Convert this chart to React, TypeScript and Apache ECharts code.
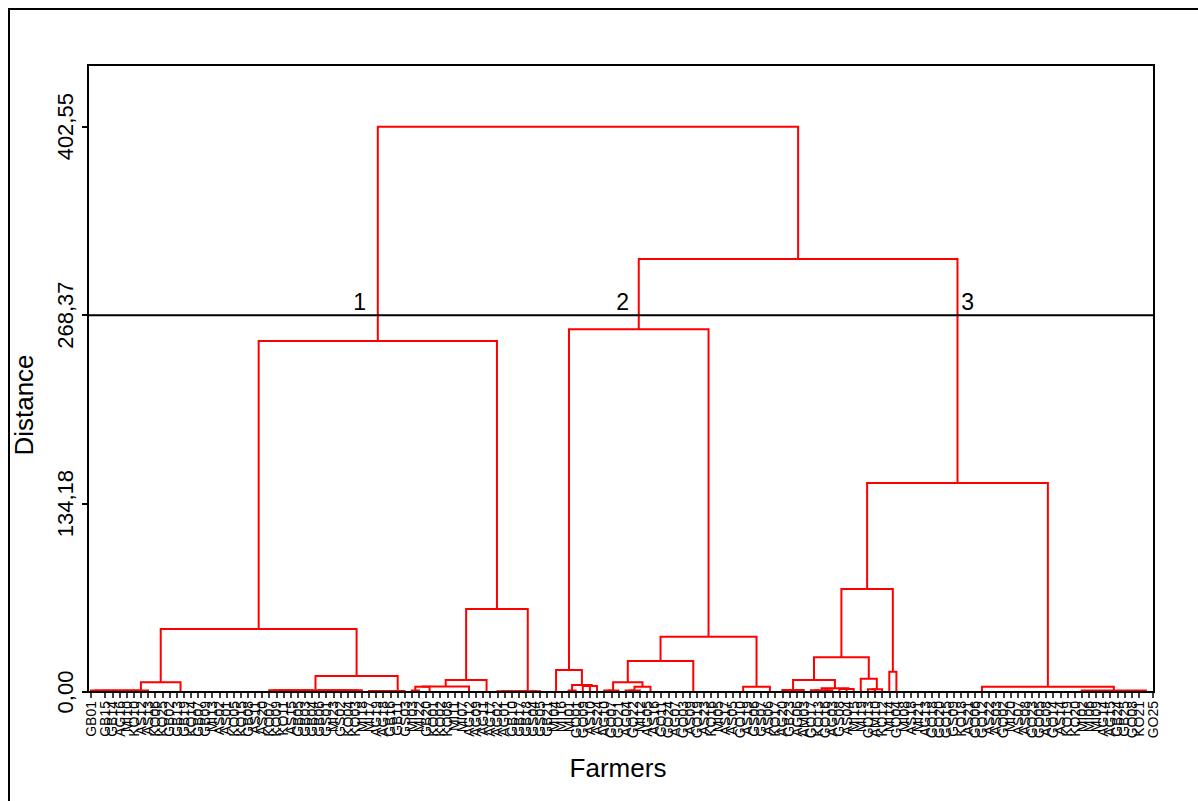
import React, { useEffect, useRef } from "react";
import * as echarts from "echarts";

// ---------- data ----------
const leafLabels: string[] = [
  "GB01","GB22","GB15","GB14","AG16","MI10","KO10","AS12","AS13","KO06",
  "KO25","GB02","GB13","GB19","KO14","GB07","GB09","MI13","AS02","AS01",
  "KO05","KO15","GB08","AS11","AS20","KO07","KO09","KO11","AS15","GB05",
  "GB03","GB04","GB06","GS01","MI23","GS02","KO04","KO03","MI18","MI17",
  "AG19","AG18","GB16","GB11","GS03","MI03","MI22","GB20","KO01","KO02",
  "KO08","MI11","MI07","AG12","AG09","AG11","AG17","AG02","AG01","GB10",
  "GB17","GB18","GS04","GS05","GB21","MI04","MI16","MI01","GO01","GO09",
  "AS10","AS24","AG10","GO07","GO21","AG04","GO22","MI12","AG05","AS16",
  "GO11","GO24","AG07","GO03","AS09","GO19","AS23","KO16","MI05","AS17",
  "AS05","GO10","AS19","GS06","GS07","AS06","KO17","AG20","GB23","AG06",
  "AM03","GO17","KO13","GO16","AG03","GS08","AS04","MI15","MI19","GO13",
  "AM10","KO12","MI14","GO04","MI08","AS18","MI21","AG13","GO18","GO20",
  "GO15","GS09","KO18","AS21","GO06","GO12","AS22","AS03","GO02","MI20",
  "AS07","AS08","GO23","GO05","AG08","GO14","AS14","KO19","KO20","MI02",
  "MI06","MI09","AG14","AG15","GB24","GB25","GO08","KO21","GS10","GO25",
];

// flat groups of consecutive leaves: [id, firstLeaf, lastLeaf, pivotLeaf, height]
const leafGroups: [string, number, number, number, number][] = [
  ["a1a", 0, 8, 7, 1.0],
  ["a1b", 9, 24, 12, 0],
  ["a2a", 25, 38, 31, 1.2],
  ["a2b", 39, 44, 43, 0.8],
  ["c1", 45, 46, 45, 1.0],
  ["c2", 47, 48, 47, 0],
  ["c3", 49, 54, 53, 0],
  ["a3b", 55, 56, 55, 0],
  ["a4", 57, 63, 61, 0.6],
  ["b1a", 64, 66, 65, 0],
  ["b1b1", 67, 68, 67, 1.0],
  ["b1b2", 69, 71, 70, 4.3],
  ["b2a1x", 72, 74, 73, 1.0],
  ["b2a1y1", 75, 77, 76, 1.0],
  ["b2a1y2", 78, 79, 78, 0],
  ["b2a2", 80, 89, 84, 0],
  ["b2b1", 90, 93, 91, 0],
  ["b2b2", 94, 96, 95, 0],
  ["d1a1", 97, 100, 98, 1.4],
  ["d1a2a", 101, 104, 102, 1.2],
  ["d1a2b", 105, 107, 106, 2.2],
  ["d1b1", 108, 108, 108, 0],
  ["d1b2", 109, 111, 110, 2.0],
  ["d2a", 112, 112, 112, 0],
  ["d2b", 113, 113, 113, 0],
  ["e1", 114, 126, 125, 0],
  ["e2a", 127, 140, 139, 0],
  ["e2b", 141, 149, 148, 0],
];

// merges between nodes: [id, left, right, height]
const links: [string, string, string, number][] = [
  ["a1", "a1a", "a1b", 6.9],
  ["a2", "a2a", "a2b", 11.4],
  ["c1l", "a1", "a2", 44.9],
  ["p", "c1", "c2", 3.7],
  ["q", "p", "c3", 3.9],
  ["a3", "q", "a3b", 8.5],
  ["c1r", "a3", "a4", 59.1],
  ["cl1", "c1l", "c1r", 250.0],
  ["b1b", "b1b1", "b1b2", 5.0],
  ["b1", "b1a", "b1b", 15.7],
  ["b2a1y", "b2a1y1", "b2a1y2", 3.8],
  ["b2a1", "b2a1x", "b2a1y", 7.0],
  ["b2a", "b2a1", "b2a2", 22.1],
  ["b2b", "b2b1", "b2b2", 3.8],
  ["b2", "b2a", "b2b", 39.4],
  ["cl2", "b1", "b2", 258.4],
  ["d1a2", "d1a2a", "d1a2b", 2.6],
  ["d1a", "d1a1", "d1a2", 8.5],
  ["d1b", "d1b1", "d1b2", 9.5],
  ["d1", "d1a", "d1b", 24.7],
  ["d2", "d2a", "d2b", 14.5],
  ["c3l", "d1", "d2", 73.3],
  ["e2", "e2a", "e2b", 1.0],
  ["c3r", "e1", "e2", 3.8],
  ["cl3", "c3l", "c3r", 148.8],
  ["cr", "cl2", "cl3", 308.3],
  ["root", "cl1", "cr", 402.55],
];

const yTickStep = 134.1833;
const yMax = 446.5;
const xMin = -0.42;
const xMax = 149.14;
const cutHeight = 268.37;
const clusterNames = ["1", "2", "3"];
const clusterLabelLeaf = [37.7, 74.6, 123.0];

// ---------- build dendrogram segments ----------
type Node = { x: number; h: number };
type Seg = [number, number, number, number, number];

function buildSegments(): Seg[] {
  const segs: Seg[] = [];
  const nodes: Record<string, Node> = {};
  const merge = (a: Node, b: Node, h: number): Node => {
    segs.push([a.x, a.h, b.x, b.h, h]);
    return { x: (a.x + b.x) / 2, h };
  };
  const leaf = (i: number): Node => ({ x: i, h: 0 });
  for (const [id, first, last, pivot, h] of leafGroups) {
    if (first === last) {
      nodes[id] = leaf(first);
      continue;
    }
    let left = leaf(first);
    for (let i = first + 1; i <= pivot; i++) left = merge(left, leaf(i), h);
    if (pivot < last) {
      let right = leaf(last);
      for (let i = last - 1; i > pivot; i--) right = merge(leaf(i), right, h);
      left = merge(left, right, h);
    }
    nodes[id] = left;
  }
  for (const [id, l, r, h] of links) {
    nodes[id] = merge(nodes[l], nodes[r], h);
  }
  return segs;
}

const FONT = '"Liberation Sans", Arial, Helvetica, sans-serif';

export default function App() {
  const ref = useRef<HTMLDivElement>(null);
  useEffect(() => {
    if (!ref.current) return;
    const chart = echarts.init(ref.current, undefined, { renderer: "svg" });
    const segs = buildSegments();
    const leafIdx = leafLabels.map((_, i) => i);
    const option: any = {
      animation: false,
      backgroundColor: "#ffffff",
      textStyle: { fontFamily: FONT },
      grid: {
        left: 88,
        right: 44,
        top: 65,
        bottom: 109,
        show: true,
        borderColor: "#000",
        borderWidth: 2,
        backgroundColor: "transparent",
      },
      xAxis: {
        type: "value",
        min: xMin,
        max: xMax,
        z: 5,
        axisLine: { show: true, onZero: false, lineStyle: { color: "#000", width: 2 } },
        axisTick: {
          show: true,
          length: 6,
          customValues: leafIdx,
          lineStyle: { color: "#000", width: 1.5 },
        },
        axisLabel: {
          rotate: 90,
          fontSize: 14,
          color: "#000",
          margin: 9,
          fontFamily: FONT,
          showMinLabel: true,
          showMaxLabel: true,
          customValues: leafIdx,
          formatter: (v: number) => leafLabels[Math.round(v)] ?? "",
        },
        splitLine: { show: false },
      },
      yAxis: {
        type: "value",
        min: 0,
        max: yMax,
        interval: yTickStep,
        z: 5,
        axisLine: { show: true, onZero: false, lineStyle: { color: "#000", width: 2 } },
        axisTick: { show: true, length: 6, lineStyle: { color: "#000", width: 2 } },
        axisLabel: {
          rotate: 90,
          fontSize: 22,
          color: "#000",
          margin: 12,
          fontFamily: FONT,
          showMaxLabel: false,
          formatter: (v: number) => (v > yMax - 1 ? "" : v.toFixed(2).replace(".", ",")),
        },
        splitLine: { show: false },
      },
      series: [
        {
          type: "custom",
          coordinateSystem: "cartesian2d",
          silent: true,
          clip: false,
          z: 2,
          dimensions: ["xL", "hL", "xR", "hR", "h"],
          encode: { x: [0, 2], y: [1, 3, 4] },
          data: segs,
          renderItem: (_params: any, api: any) => {
            const xL = api.value(0);
            const hL = api.value(1);
            const xR = api.value(2);
            const hR = api.value(3);
            const h = api.value(4);
            const pts = [
              api.coord([xL, hL]),
              api.coord([xL, h]),
              api.coord([xR, h]),
              api.coord([xR, hR]),
            ];
            return {
              type: "polyline",
              shape: { points: pts },
              style: { stroke: "#ff0000", lineWidth: 2, fill: "none" },
            };
          },
        },
        {
          type: "line",
          silent: true,
          z: 3,
          symbol: "none",
          lineStyle: { color: "#000", width: 2 },
          data: [
            [xMin, cutHeight],
            [xMax, cutHeight],
          ],
        },
        {
          type: "scatter",
          silent: true,
          z: 4,
          symbolSize: 1,
          itemStyle: { color: "rgba(0,0,0,0)" },
          label: {
            show: true,
            position: "top",
            distance: 1,
            fontSize: 23,
            color: "#000000",
            opacity: 1,
            fontFamily: FONT,
            formatter: (p: any) => p.name,
          },
          data: clusterLabelLeaf.map((x, i) => ({ name: clusterNames[i], value: [x, cutHeight] })),
        },
      ],
      graphic: [
        {
          type: "rect",
          silent: true,
          shape: { x: 9, y: 9, width: 1220, height: 820 },
          style: { fill: "none", stroke: "#000", lineWidth: 2 },
        },
        {
          type: "text",
          silent: true,
          x: 618,
          y: 768,
          style: {
            text: "Farmers",
            font: `26px ${FONT}`,
            fill: "#000",
            textAlign: "center",
            textVerticalAlign: "middle",
          },
        },
        {
          type: "text",
          silent: true,
          x: 24,
          y: 405,
          rotation: Math.PI / 2,
          style: {
            text: "Distance",
            font: `26px ${FONT}`,
            fill: "#000",
            textAlign: "center",
            textVerticalAlign: "middle",
          },
        },
      ],
    };
    chart.setOption(option);
    return () => chart.dispose();
  }, []);
  return (
    <div
      ref={ref}
      style={{ position: "fixed", left: 0, top: 0, width: 1198, height: 801, background: "#fff" }}
    />
  );
}
